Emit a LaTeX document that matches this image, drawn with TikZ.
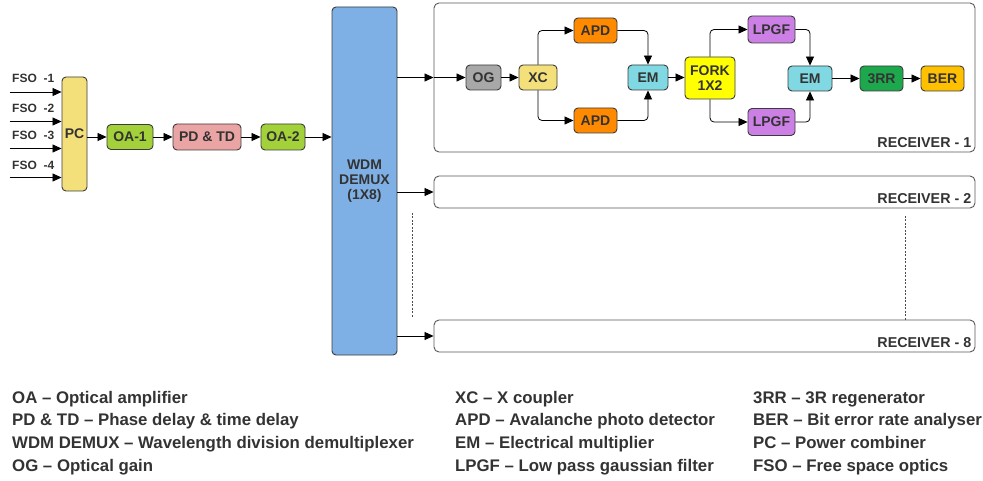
\documentclass[tikz,border=0pt]{standalone}
\usepackage{fontspec}
\setmainfont{Liberation Sans}
\usetikzlibrary{arrows.meta}
\definecolor{lineC}{HTML}{3C3C3C}
\definecolor{txtC}{HTML}{333333}
\definecolor{yelC}{HTML}{F3E07A}
\definecolor{oaC}{HTML}{A3D13A}
\definecolor{pdC}{HTML}{EBA4A4}
\definecolor{wdmC}{HTML}{7FB0E5}
\definecolor{ogC}{HTML}{A8A8A8}
\definecolor{apdC}{HTML}{FF8A00}
\definecolor{emC}{HTML}{80D8E2}
\definecolor{forkC}{HTML}{FFFF00}
\definecolor{lpgfC}{HTML}{CC80E6}
\definecolor{rrC}{HTML}{1EA84E}
\definecolor{berC}{HTML}{FFC000}
\tikzset{
  blk/.style={draw=lineC, line width=0.9pt, rounded corners=4pt, inner sep=0pt,
    align=center, text=txtC, font=\fontsize{14}{15}\selectfont\bfseries},
  rxbox/.style={draw=lineC!85, line width=0.9pt, rounded corners=5pt, fill=white,
    minimum width=541pt, inner sep=0pt},
  conn/.style={draw=black, line width=0.8pt, -{Triangle[length=9pt,width=8pt]}},
  lbl/.style={text=txtC, font=\fontsize{14.3}{15}\selectfont\bfseries, inner sep=0pt},
  fso/.style={text=txtC, font=\fontsize{12}{13}\selectfont\bfseries, inner sep=0pt, anchor=base west},
  leg/.style={text=txtC, font=\fontsize{16.8}{18}\selectfont\bfseries, inner sep=0pt, anchor=base west},
  dsh/.style={draw=black!70, line width=0.6pt, dash pattern=on 2pt off 1.5pt}
}
\begin{document}
\begin{tikzpicture}[x=1pt,y=-1pt]
\useasboundingbox (0,0) rectangle (983,481);
% left chain
\node[blk, fill=yelC, minimum width=25pt, minimum height=114pt] (pc) at (74.5,134) {PC};
\node[blk, fill=oaC, minimum width=46pt, minimum height=25pt] (oa1) at (130,137) {OA-1};
\node[blk, fill=pdC, minimum width=68pt, minimum height=26pt] (pdtd) at (207,137) {PD \& TD};
\node[blk, fill=oaC, minimum width=44pt, minimum height=26pt] (oa2) at (283,137) {OA-2};
\node[blk, fill=wdmC, minimum width=65pt, minimum height=348pt] (wdm) at (364.5,181) {WDM\\DEMUX\\(1X8)};
% FSO inputs
\node[fso] (fl1) at (12,82.5) {FSO\ \ -1};
\node[fso] (fl2) at (12,112.5) {FSO\ \ -2};
\node[fso] (fl3) at (12,139.5) {FSO\ \ -3};
\node[fso] (fl4) at (12,169.5) {FSO\ \ -4};
\coordinate (f1) at (10,92);
\coordinate (f2) at (10,121.5);
\coordinate (f3) at (10,148.5);
\coordinate (f4) at (10,177.5);
\draw[conn] (f1) -- (f1 -| pc.west);
\draw[conn] (f2) -- (f2 -| pc.west);
\draw[conn] (f3) -- (f3 -| pc.west);
\draw[conn] (f4) -- (f4 -| pc.west);
\draw[conn] (pc.east |- oa1.west) -- (oa1.west);
\draw[conn] (oa1.east) -- (pdtd.west);
\draw[conn] (pdtd.east) -- (oa2.west);
\draw[conn] (oa2.east) -- (oa2.east -| wdm.west);
% receiver boxes
\node[rxbox, minimum height=149pt] (rx1) at (704.5,77.5) {};
\node[rxbox, minimum height=32pt] (rx2) at (704.5,192) {};
\node[rxbox, minimum height=32pt] (rx8) at (704.5,336) {};
\node[lbl, anchor=base east] (r1l) at ([xshift=-4pt,yshift=5pt]rx1.south east) {RECEIVER - 1};
\node[lbl, anchor=base east] (r2l) at ([xshift=-4pt,yshift=5pt]rx2.south east) {RECEIVER - 2};
\node[lbl, anchor=base east] (r8l) at ([xshift=-4pt,yshift=5pt]rx8.south east) {RECEIVER - 8};
% receiver 1 contents
\node[blk, fill=ogC, minimum width=35pt, minimum height=25pt] (og) at (483.5,77.5) {OG};
\node[blk, fill=yelC, minimum width=38pt, minimum height=25pt] (xc) at (538,77.5) {XC};
\node[blk, fill=apdC, minimum width=43pt, minimum height=25pt] (apd1) at (595.5,30.5) {APD};
\node[blk, fill=apdC, minimum width=43pt, minimum height=25pt] (apd2) at (595.5,120.5) {APD};
\node[blk, fill=emC, minimum width=40pt, minimum height=25pt] (em1) at (648,77.5) {EM};
\node[blk, fill=forkC, minimum width=50pt, minimum height=42pt] (fork) at (710,78) {FORK\\1X2};
\node[blk, fill=lpgfC, minimum width=47pt, minimum height=27pt] (lp1) at (771.5,29.5) {LPGF};
\node[blk, fill=lpgfC, minimum width=47pt, minimum height=27pt] (lp2) at (771.5,122) {LPGF};
\node[blk, fill=emC, minimum width=44pt, minimum height=25pt] (em2) at (810,78.5) {EM};
\node[blk, fill=rrC, minimum width=43pt, minimum height=25pt] (rr) at (881.5,78.5) {3RR};
\node[blk, fill=berC, minimum width=43pt, minimum height=25pt] (ber) at (942.5,78.5) {BER};
% connectors
\draw[conn] (wdm.east |- og.west) -- (rx1.west |- og.west);
\draw[conn] (rx1.west |- og.west) -- (og.west);
\draw[conn] (og.east) -- (xc.west);
\draw[conn, rounded corners=4pt] (xc.north) |- (apd1.west);
\draw[conn, rounded corners=4pt] (xc.south) |- (apd2.west);
\draw[conn, rounded corners=4pt] (apd1.east) -| (em1.north);
\draw[conn, rounded corners=4pt] (apd2.east) -| (em1.south);
\draw[conn] (em1.east) -- (em1.east -| fork.west);
\draw[conn, rounded corners=4pt] (fork.north) |- (lp1.west);
\draw[conn, rounded corners=4pt] (fork.south) |- (lp2.west);
\draw[conn, rounded corners=4pt] (lp1.east) -| (em2.north);
\draw[conn, rounded corners=4pt] (lp2.east) -| (em2.south);
\draw[conn] (em2.east) -- (rr.west);
\draw[conn] (rr.east) -- (ber.west);
\draw[conn] (wdm.east |- rx2.west) -- (rx2.west);
\draw[conn] (wdm.east |- rx8.west) -- (rx8.west);
% dashed continuation lines
\coordinate (dl1) at (412,213);
\coordinate (dl2) at (412,318);
\coordinate (dr1) at (905,216);
\draw[dsh] (dl1) -- (dl2);
\draw[dsh] (dr1) -- (dr1 |- rx8.north);
% legend
\node[leg] (l11) at (12,403) {OA – Optical amplifier};
\node[leg] (l12) at (12,425) {PD \& TD – Phase delay \& time delay};
\node[leg] (l13) at (12,448) {WDM DEMUX – Wavelength division demultiplexer};
\node[leg] (l14) at (12,471) {OG – Optical gain};
\node[leg] (l21) at (455,403) {XC – X coupler};
\node[leg] (l22) at (455,425) {APD – Avalanche photo detector};
\node[leg] (l23) at (455,448) {EM – Electrical multiplier};
\node[leg] (l24) at (455,471) {LPGF – Low pass gaussian filter};
\node[leg] (l31) at (753,403) {3RR – 3R regenerator};
\node[leg] (l32) at (753,425) {BER – Bit error rate analyser};
\node[leg] (l33) at (753,448) {PC – Power combiner};
\node[leg] (l34) at (753,471) {FSO – Free space optics};
\end{tikzpicture}
\end{document}
